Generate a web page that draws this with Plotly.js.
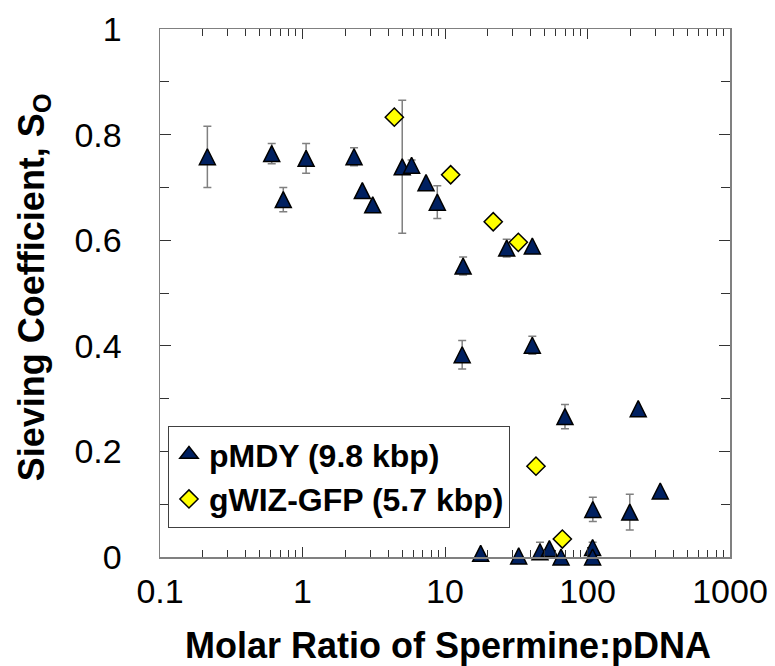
<!DOCTYPE html>
<html>
<head>
<meta charset="utf-8">
<script src="https://cdn.plot.ly/plotly-3.0.1.min.js"></script>
<style>
  html, body { margin: 0; padding: 0; background: #ffffff; }
  #chart { width: 775px; height: 666px; }
</style>
</head>
<body>
<div id="chart"></div>
<script>
// ---- Data ----
const pmdyName = "pMDY (9.8 kbp)";
const pmdyX = [0.215, 0.608, 0.733, 1.06, 2.30, 2.63, 3.11, 5.01, 5.83, 7.36, 8.83, 13.4, 13.2, 27.1,
               41.0, 41.0, 69.5, 227, 324, 109, 198, 17.8, 32.9, 46.4, 54.0, 65.2, 108.6, 108.6];
const pmdyY = [0.758, 0.764, 0.677, 0.755, 0.758, 0.694, 0.667, 0.739, 0.742, 0.709, 0.672, 0.551, 0.383, 0.585,
               0.589, 0.401, 0.266, 0.281, 0.125, 0.090, 0.085, 0.007, 0.002, 0.010, 0.016, 0.000, 0.018, 0.000];
const pmdyErr = [0.058, 0.019, 0.023, 0.028, 0.017, 0, 0, 0.126, 0.010, 0, 0.031, 0.017, 0.027, 0.017,
                 0, 0.017, 0.023, 0, 0, 0.023, 0.034, 0, 0, 0.018, 0, 0, 0.010, 0];

const gwizName = "gWIZ-GFP (5.7 kbp)";
const gwizX = [4.41, 10.96, 21.8, 32.7, 43.5, 66.6];
const gwizY = [0.833, 0.724, 0.635, 0.596, 0.172, 0.034];

// ---- Tick labels and titles ----
const xTickVals = [0.1, 1, 10, 100, 1000];
const xTickText = ["0.1", "1", "10", "100", "1000"];
const xMinorTickVals = [];
[0.1, 1, 10, 100].forEach(function (d) {
  for (let k = 2; k <= 9; k++) xMinorTickVals.push(d * k);
});
const xTitle = "Molar Ratio of Spermine:pDNA";
const yTitle = "Sieving Coefficient, S<sub>O</sub>";

const FONT = "Liberation Sans, Arial, sans-serif";
const NAVY = "#002060";
const TITLE_FONT = { family: FONT, size: 36, weight: 700, color: "#000000" };

const traces = [
  {
    type: "scatter",
    mode: "markers",
    name: pmdyName,
    showlegend: false,
    x: pmdyX,
    y: pmdyY,
    cliponaxis: false,
    error_y: {
      type: "data",
      array: pmdyErr,
      visible: true,
      color: "#808080",
      thickness: 1.5,
      width: 4
    },
    marker: {
      symbol: "arrow-down",
      angle: 180,
      standoff: 8,
      size: 16,
      color: NAVY,
      line: { color: "#000000", width: 1.5 }
    }
  },
  {
    // legend entry for the pMDY series (same style, centred triangle)
    type: "scatter",
    mode: "markers",
    name: pmdyName,
    x: [null],
    y: [null],
    marker: {
      symbol: "triangle-up",
      size: 16,
      color: NAVY,
      line: { color: "#000000", width: 1.5 }
    }
  },
  {
    type: "scatter",
    mode: "markers",
    name: gwizName,
    x: gwizX,
    y: gwizY,
    cliponaxis: false,
    marker: {
      symbol: "diamond",
      size: 14,
      color: "#FFFF00",
      line: { color: "#000000", width: 1.5 }
    }
  }
];

const layout = {
  width: 775,
  height: 666,
  margin: { l: 160, r: 45, t: 29, b: 109 },
  paper_bgcolor: "#ffffff",
  plot_bgcolor: "#ffffff",
  font: { family: FONT, color: "#000000" },
  showlegend: true,
  legend: {
    x: 0.014,
    y: 0.248,
    xanchor: "left",
    yanchor: "top",
    bgcolor: "#ffffff",
    bordercolor: "#404040",
    borderwidth: 1,
    tracegroupgap: 0,
    font: { family: FONT, size: 32, weight: 700, color: "#000000" }
  },
  xaxis: {
    type: "log",
    range: [-1, 3],
    tickmode: "array",
    tickvals: xTickVals,
    ticktext: xTickText,
    ticks: "inside",
    ticklen: 10,
    tickwidth: 1,
    tickcolor: "#333333",
    minor: {
      tickmode: "array",
      tickvals: xMinorTickVals,
      ticks: "inside",
      ticklen: 7,
      tickwidth: 1,
      tickcolor: "#333333",
      showgrid: false
    },
    showline: true,
    linecolor: "#808080",
    linewidth: 1.5,
    mirror: "ticks",
    showgrid: false,
    zeroline: false,
    ticklabelstandoff: 4,
    tickfont: { family: FONT, size: 34, color: "#000000" },
    automargin: false
  },
  yaxis: {
    range: [0, 1],
    tick0: 0,
    dtick: 0.2,
    ticks: "inside",
    ticklen: 11,
    tickwidth: 1,
    tickcolor: "#333333",
    minor: {
      dtick: 0.1,
      ticks: "inside",
      ticklen: 9,
      tickwidth: 1,
      tickcolor: "#333333",
      showgrid: false
    },
    showline: true,
    linecolor: "#808080",
    linewidth: 1.5,
    mirror: "ticks",
    showgrid: false,
    zeroline: false,
    ticklabelstandoff: 30,
    tickfont: { family: FONT, size: 34, color: "#000000" },
    automargin: false
  },
  annotations: [
    {
      text: xTitle,
      xref: "paper", yref: "paper",
      x: 0.505, y: 0,
      xanchor: "center", yanchor: "middle",
      yshift: -88,
      showarrow: false,
      font: TITLE_FONT
    },
    {
      text: yTitle,
      xref: "paper", yref: "paper",
      x: 0, y: 0.511,
      xanchor: "center", yanchor: "middle",
      xshift: -126,
      textangle: -90,
      showarrow: false,
      font: TITLE_FONT
    }
  ]
};

Plotly.newPlot("chart", traces, layout, { displayModeBar: false, staticPlot: true });
</script>
</body>
</html>
